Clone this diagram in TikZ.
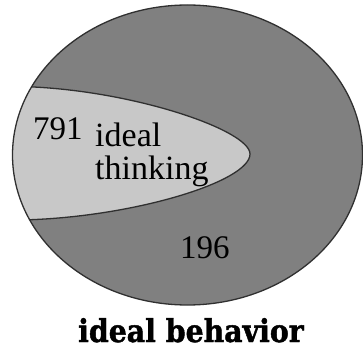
\documentclass[tikz,border=0pt]{standalone}
\usepackage{fontspec}
\setmainfont{Liberation Serif}
\newfontfamily\serifont{Liberation Serif}
\newfontfamily\heavyfont[BoldFeatures={FakeBold=1.5}]{DejaVu Serif}
\definecolor{outerfill}{HTML}{808080}
\definecolor{innerfill}{HTML}{C8C8C8}
\definecolor{edgecol}{HTML}{303030}
\tikzset{
  edge/.style={draw=edgecol, line width=1.3pt},
  numtext/.style={inner sep=0pt, anchor=base west, font=\serifont\fontsize{33}{33}\selectfont},
  labtext/.style={inner sep=0pt, anchor=base west, font=\serifont\fontsize{34}{34}\selectfont},
  titletext/.style={inner sep=0pt, anchor=base west, font=\heavyfont\bfseries\fontsize{31.5}{31.5}\selectfont, xscale=0.9}
}
\begin{document}
\begin{tikzpicture}[x=1pt,y=-1pt]
\useasboundingbox (0,0) rectangle (363,352);
\fill[white] (0,0) rectangle (363,352);
\fill[outerfill] (187.5,155) ellipse [x radius=175, y radius=150];
\begin{scope}
  \clip (187.5,155) ellipse [x radius=175, y radius=150];
  \fill[innerfill] (0,86.5) -- (20,86.5) .. controls (130,89) and (250,130) .. (250,154)
     .. controls (250,182) and (130,218) .. (20,220) -- (0,220) -- cycle;
  \draw[edge] (0,86.5) -- (20,86.5) .. controls (130,89) and (250,130) .. (250,154)
     .. controls (250,182) and (130,218) .. (20,220) -- (0,220);
\end{scope}
\draw[edge] (187.5,155) ellipse [x radius=175, y radius=150];
\node[numtext] (n791) at (33,140) {791};
\node[labtext] (ideal) at (95,147) {ideal};
\node[labtext] (thinking) at (95,180) {thinking};
\node[numtext] (n196) at (180,258) {196};
\node[titletext] (title) at (78,342) {ideal behavior};
\end{tikzpicture}
\end{document}
